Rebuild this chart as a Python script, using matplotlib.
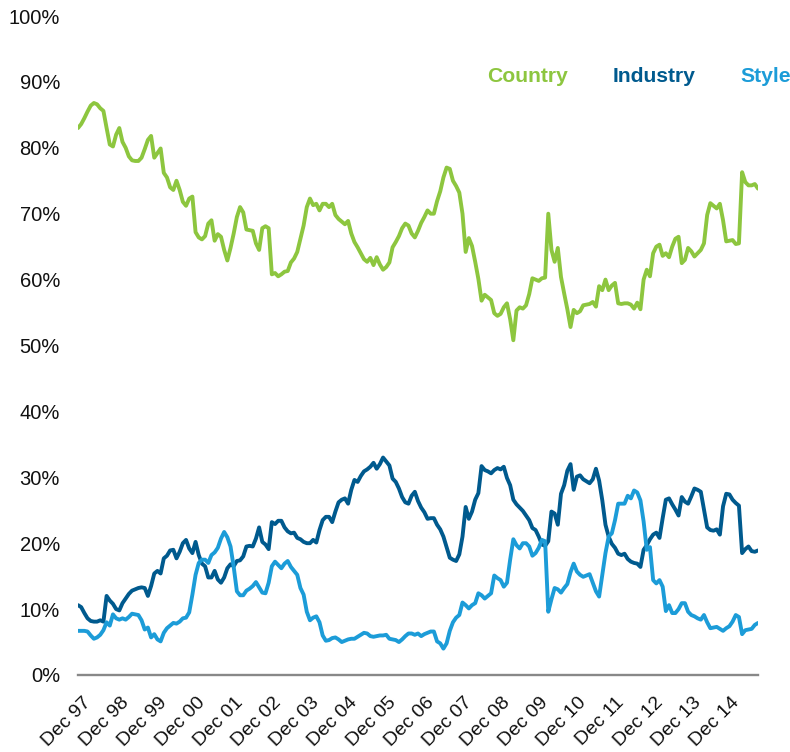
import matplotlib
matplotlib.use("Agg")
import matplotlib.pyplot as plt
from matplotlib.ticker import FuncFormatter
from matplotlib.transforms import ScaledTranslation
import numpy as np

# ---------------- data (monthly, Dec 1997 onwards, % share) ----------------
country = [
    83.0, 83.6, 84.5, 85.5, 86.4, 86.8, 86.6, 86.0, 85.6, 83.0, 80.5, 80.2, 82.0, 83.0, 80.9, 80.0, 78.7, 78.1,
    78.0,
    78.0, 78.5, 79.8, 81.2, 81.8, 78.5, 79.2, 79.9, 76.2, 75.5, 74.0, 73.6, 75.0, 73.6, 71.8, 71.2, 72.3, 72.6,
    67.2, 66.4, 66.1, 66.6, 68.5, 69.0, 65.9, 66.9, 66.5, 64.5, 62.9, 64.8, 67.0, 69.5, 71.0, 70.2, 67.6,
    67.5,
    67.4, 65.5, 64.5, 67.8, 68.1, 67.8, 60.8, 61.0, 60.5, 60.8, 61.2, 61.3, 62.6, 63.2, 64.2, 66.2, 68.2,
    71.0, 72.3, 71.3, 71.5, 70.5, 71.5, 71.5, 71.0, 71.5, 69.8, 69.2, 68.8, 68.4, 68.9, 67.0, 65.7, 64.9,
    64.0,
    63.1, 62.7, 63.3, 62.2, 63.4, 62.3, 61.5, 61.9, 62.6, 64.9, 65.7, 66.6, 67.8, 68.5, 68.2, 67.0, 66.4,
    67.4, 68.6, 69.5, 70.5, 70.0, 70.0, 71.9, 73.4, 75.5, 77.0, 76.8, 75.0, 74.2, 73.2, 70.0, 64.2, 66.3,
    65.1, 62.7, 60.1, 56.8, 57.7,
    57.3,
    56.9, 54.9, 54.5, 54.8, 55.8, 56.4, 54.0, 50.8, 55.3, 55.8, 55.6, 56.1, 57.8, 60.2, 60.0, 59.8, 60.2,
    60.3, 70.0, 64.5, 62.7, 64.8, 60.4, 57.9, 55.5, 52.8, 55.4, 54.9, 55.2, 56.1,
    56.2,
    56.3, 56.6, 55.9, 59.0, 58.4, 60.0, 58.4, 59.1, 59.5, 56.4, 56.3, 56.4, 56.4, 56.2, 55.6, 56.5, 55.5,
    60.0, 61.5, 60.5, 64.0, 65.0, 65.3, 63.6, 64.0, 63.4, 65.0, 66.2, 66.5, 62.5, 63.0, 64.8, 64.3, 63.5,
    64.0,
    64.5, 65.5, 69.8, 71.6, 71.2, 70.8, 71.5, 69.0, 65.8, 65.9, 66.0, 65.4, 65.5, 76.3, 74.8, 74.3, 74.3,
    74.5, 73.8,
]

industry = [
    10.6, 10.3, 9.4, 8.6, 8.2, 8.1, 8.1, 8.3, 8.1, 12.0, 11.3, 10.8, 10.0, 9.8, 10.9, 11.6, 12.3, 12.8,
    13.0,
    13.2, 13.3, 13.2, 12.0, 13.5, 15.4, 15.8, 15.4, 17.7, 18.1, 18.9, 19.0, 17.7, 18.7, 20.0, 20.5, 19.2,
    18.5, 20.2, 18.2, 16.9, 16.5, 14.8, 14.8, 15.8, 14.5, 14.0, 14.8, 16.2, 16.8, 16.5, 17.3, 17.4, 18.0, 19.5,
    19.6,
    19.5, 20.7, 22.4, 20.2, 19.8, 19.1, 23.2, 22.9, 23.4, 23.4, 22.4, 21.8, 21.5, 21.6, 20.8, 20.6, 20.2,
    20.0, 20.0, 20.5, 20.1, 22.0, 23.5, 24.0, 24.0, 23.2, 24.8, 26.2, 26.6, 26.8, 26.0, 28.1, 29.6, 29.3,
    30.2,
    30.9, 31.2, 31.6, 32.2, 31.3, 32.0, 33.0, 32.4, 31.8, 29.8, 29.3, 28.3, 27.0, 26.2, 26.0, 27.2, 27.8,
    26.4, 25.4, 24.7, 23.7, 23.8, 23.8, 22.8, 22.1, 21.0, 19.4, 17.8, 17.5, 17.3, 18.3, 21.0, 25.5, 23.7,
    24.8, 26.6, 27.6, 31.7, 31.1,
    30.9,
    30.6, 31.1, 31.4, 31.2, 31.6, 29.9, 28.8, 26.6, 25.9, 25.4, 24.9, 24.2, 23.5, 22.3, 22.0, 21.0, 19.8,
    19.6, 20.3, 24.8, 24.5, 22.8, 27.5, 28.8, 31.0, 32.0, 28.1, 30.1, 30.3, 29.7,
    29.4,
    29.1, 29.7, 31.3, 29.5, 26.5, 22.8, 21.0, 19.9, 19.3, 18.4, 18.2, 18.4, 17.6, 17.2, 17.0, 16.9, 16.4,
    19.0, 19.7, 20.6, 21.3, 21.6, 20.8, 23.8, 26.6, 26.8, 25.9, 25.1, 24.2, 27.0, 26.3, 26.0, 27.1, 28.3,
    28.1,
    27.8, 25.1, 22.4, 22.0, 21.9, 22.1, 21.3, 25.6, 27.5, 27.4, 26.6, 26.1, 25.7, 18.5, 19.1, 19.5, 18.8,
    18.7, 18.9,
]

style = [
    6.7, 6.7, 6.7, 6.6, 6.0, 5.5, 5.7, 6.1, 6.8, 8.0, 7.5, 9.2, 8.6, 8.4, 8.6, 8.4, 8.8, 9.3,
    9.2,
    9.1, 8.3, 6.9, 7.2, 5.7, 6.2, 5.4, 5.1, 6.4, 7.1, 7.5, 7.9, 7.8, 8.1, 8.6, 8.7, 9.5, 12.2, 15.2, 17.0,
    17.5, 17.5, 17.0, 18.2, 18.6, 19.3, 20.7, 21.7, 20.9, 19.5, 16.4, 12.7, 12.1, 12.1, 12.8,
    13.1,
    13.5, 14.1, 13.3, 12.5, 12.4, 14.0, 16.5, 17.2, 16.7, 16.2, 16.9, 17.3, 16.4, 15.8, 15.2, 13.2, 12.2,
    9.6, 8.3, 8.7, 8.9, 8.0, 6.0, 5.2, 5.3, 5.6, 5.7, 5.4, 5.0, 5.2, 5.4, 5.5, 5.5, 5.8,
    6.1,
    6.4, 6.3, 5.9, 5.8, 5.9, 6.0, 6.0, 6.1, 5.5, 5.4, 5.3, 5.0, 5.4, 5.9, 6.3, 6.3, 6.1, 6.3, 5.9, 6.2,
    6.4, 6.6, 6.6, 5.1, 4.8, 4.0, 4.8, 6.7, 8.0, 8.7, 9.1, 11.0, 10.6, 10.1, 10.6, 10.9, 12.4, 12.1, 11.6,
    12.0,
    12.4, 15.1, 14.7, 14.4, 13.4, 14.0, 17.5, 20.6, 19.7, 19.2, 20.0, 20.0, 19.5, 18.1, 18.5, 19.3, 20.5,
    20.3, 9.6, 11.5, 13.2, 13.0, 12.5, 13.2, 13.8, 15.6, 16.9, 15.7, 15.2, 14.9,
    15.1,
    15.3, 14.0, 12.7, 11.9, 15.2, 18.5, 21.0, 21.5, 23.5, 26.0, 26.0, 26.0, 27.2, 26.8, 28.0, 27.7, 26.5,
    23.3, 19.0, 19.4, 14.4, 13.9, 14.4, 13.4, 9.7, 10.6, 9.4, 9.4, 10.0, 10.9, 10.9, 9.6, 9.1, 8.9,
    8.6,
    8.4, 9.1, 8.0, 7.1, 7.2, 7.3, 7.0, 6.7, 7.1, 7.4, 8.1, 9.1, 8.8, 6.2, 6.8, 6.9, 7.0, 7.6, 7.9,
]

tick_labels = ["Dec 97", "Dec 98", "Dec 99", "Dec 00", "Dec 01", "Dec 02", "Dec 03", "Dec 04",
               "Dec 05", "Dec 06", "Dec 07", "Dec 08", "Dec 09", "Dec 10", "Dec 11", "Dec 12",
               "Dec 13", "Dec 14"]
series_names = ["Country", "Industry", "Style"]
colors = ["#8DC63F", "#005A8E", "#1C9CD8"]

# ---------------- figure ----------------
plt.rcParams["font.family"] = ["Liberation Sans", "DejaVu Sans"]

W, H = 790, 752
fig = plt.figure(figsize=(W / 100, H / 100), dpi=100)
ax = fig.add_axes([78 / W, 1 - 675 / H, 680 / W, 659 / H])

for name, data, col in zip(series_names, [country, industry, style], colors):
    ax.plot(np.arange(len(data)), data, color=col, lw=2.8,
            solid_joinstyle="round", solid_capstyle="round", label=name)

n = len(country)
ax.set_xlim(0, n - 1)
ax.set_ylim(0, 100)
ax.set_yticks(np.arange(0, 101, 10))
ax.yaxis.set_major_formatter(FuncFormatter(lambda v, p: f"{v:.0f}%"))
ax.tick_params(axis="y", length=0, pad=13, labelsize=14.5, labelcolor="#111111")

ax.set_xticks(np.arange(len(tick_labels)) * 12)
ax.set_xticklabels(tick_labels, rotation=45, ha="right", va="top",
                   rotation_mode="anchor", fontsize=14, color="#111111")
ax.tick_params(axis="x", length=0, pad=13.5)
offset = ScaledTranslation(3 / 72, 0, fig.dpi_scale_trans)
for lab in ax.get_xticklabels():
    lab.set_transform(lab.get_transform() + offset)

for s in ["left", "right", "top"]:
    ax.spines[s].set_visible(False)
ax.spines["bottom"].set_color("#888888")
ax.spines["bottom"].set_linewidth(1.7)

# legend as coloured text
legend_x = [487, 612.5, 740.5]
for name, col, lx in zip(series_names, colors, legend_x):
    fig.text(lx / W, 1 - 81.5 / H, name, color=col, fontsize=15.2,
             fontweight="bold", ha="left", va="baseline")

fig.savefig("out.png", dpi=100)
